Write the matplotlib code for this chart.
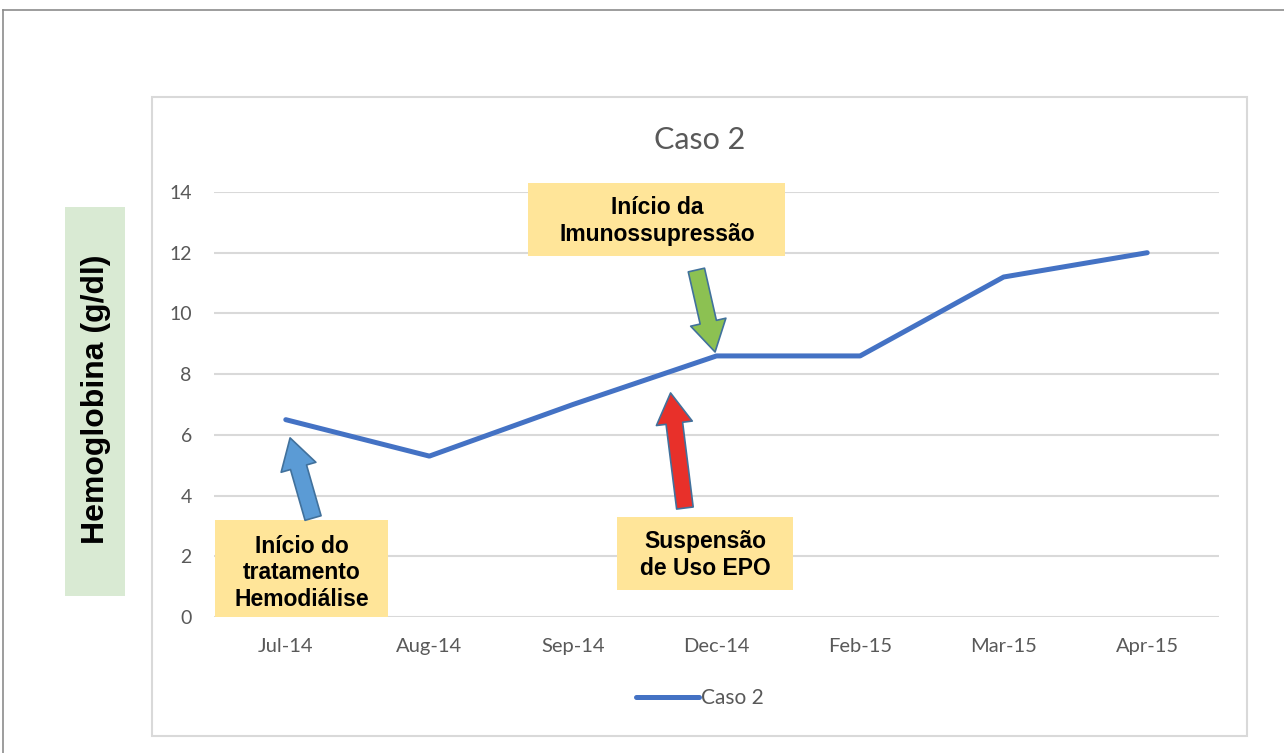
import matplotlib
matplotlib.use('Agg')
import matplotlib.pyplot as plt
from matplotlib.patches import Rectangle
from matplotlib.lines import Line2D

# dados
meses = ['Jul-14', 'Aug-14', 'Sep-14', 'Dec-14', 'Feb-15', 'Mar-15', 'Apr-15']
hemoglobina = [6.5, 5.3, 7.0, 8.6, 8.6, 11.2, 12.0]
y_ticks = [0, 2, 4, 6, 8, 10, 12, 14]

# anotações: texto, caixa (x0, y0, x1, y1), centro do texto (y), seta (cauda, ponta), cor
notas = [
    ('Início do\ntratamento\nHemodiálise', (-0.49, 0.0, 0.71, 3.19), 1.45,
     ((0.19, 3.26), (0.03, 5.9)), '#5B9BD5'),
    ('Início da\nImunossupressão', (1.69, 11.89, 3.48, 14.3), 13.05,
     ((2.86, 11.43), (2.99, 8.73)), '#8CC152'),
    ('Suspensão\nde Uso EPO', (2.31, 0.89, 3.53, 3.29), 2.05,
     ((2.78, 3.59), (2.68, 7.38)), '#E8302A'),
]

cinza = '#595959'
grade = '#D9D9D9'
azul = '#4472C4'

fig = plt.figure(figsize=(12.84, 7.53), dpi=100)
W, H = 1284, 753

# moldura externa (recorte da figura)
fig.add_artist(Line2D([3 / W, 1], [1 - 10 / H, 1 - 10 / H], color='#8C8C8C', lw=1.2))
fig.add_artist(Line2D([3 / W, 3 / W], [0, 1 - 10 / H], color='#8C8C8C', lw=1.2))
# caixa do gráfico
fig.add_artist(Rectangle((152 / W, 1 - 736 / H), (1247 - 152) / W, (736 - 97) / H,
                         transform=fig.transFigure, fill=False, ec=grade, lw=1.5))

ax = fig.add_axes([214 / W, 1 - 617 / H, (1219 - 214) / W, (617 - 192) / H])
x = list(range(len(meses)))
ax.plot(x, hemoglobina, color=azul, lw=3.6, solid_capstyle='round', zorder=3, label='Caso 2')
ax.set_xlim(-0.5, len(meses) - 0.5)
ax.set_ylim(0, 14)
ax.set_yticks(y_ticks)
ax.set_xticks(x)
ax.set_xticklabels(meses)
for s in ax.spines.values():
    s.set_visible(False)
ax.grid(axis='y', color=grade, lw=1.5)
ax.set_axisbelow(True)
ax.tick_params(axis='x', length=0, labelsize=14.5, labelcolor=cinza, pad=15)
ax.tick_params(axis='y', length=0, labelsize=14, labelcolor=cinza, pad=16)
for lab in ax.get_xticklabels() + ax.get_yticklabels():
    lab.set_family('Lato')

fig.text(700 / W, 1 - 140 / H, 'Caso 2', ha='center', va='center', fontsize=22,
         color=cinza, family='Lato')

# rótulo do eixo y com fundo verde
fig.add_artist(Rectangle((65 / W, 1 - 596 / H), 60 / W, (596 - 207) / H,
                         transform=fig.transFigure, fc='#D9EAD3', ec='none'))
fig.text(96 / W, 1 - 399 / H, 'Hemoglobina (g/dl)', rotation=90, ha='center', va='center',
         fontsize=23, fontweight='bold', family='Liberation Sans', color='black')

for texto, (x0, y0, x1, y1), yc, (cauda, ponta), cor in notas:
    ax.add_patch(Rectangle((x0, y0), x1 - x0, y1 - y0, fc='#FFE599', ec='none',
                           zorder=4, clip_on=False))
    ax.text((x0 + x1) / 2, yc, texto, ha='center', va='center', fontsize=16.5,
            fontweight='bold', family='Liberation Sans', linespacing=1.2, zorder=5,
            clip_on=False)
    ax.annotate('', xy=ponta, xytext=cauda, zorder=5,
                arrowprops=dict(arrowstyle='simple,head_length=2.2,head_width=2.6,tail_width=1.2',
                                mutation_scale=10, fc=cor, ec='#41719C', lw=1.2,
                                shrinkA=0, shrinkB=0))

leg = fig.legend(handles=[Line2D([], [], color=azul, lw=3.6, solid_capstyle='round')],
                 labels=['Caso 2'], loc='center', bbox_to_anchor=(700 / W, 1 - 698 / H),
                 frameon=False, handlelength=3.0, handletextpad=0.1,
                 prop={'family': 'Lato', 'size': 15})
for t in leg.get_texts():
    t.set_color(cinza)

fig.savefig('out.png', dpi=100)
